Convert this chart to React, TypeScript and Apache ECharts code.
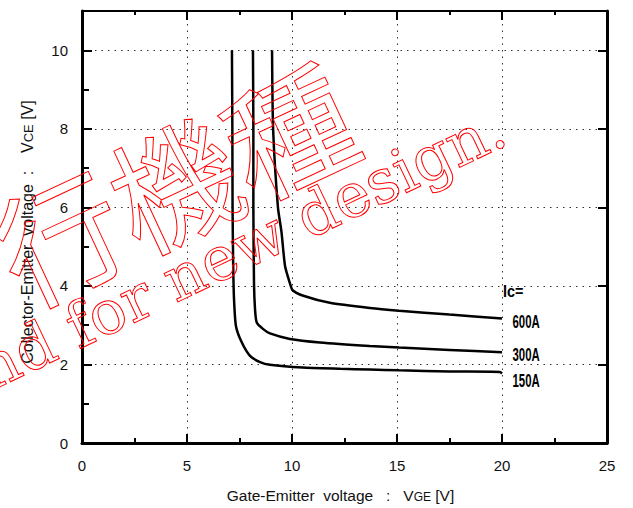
import React, { useEffect, useRef } from "react";
import * as echarts from "echarts";

// ---- data (VGE [V], VCE [V]) ----
const curve150A: [number, number][] = [
  [7.14, 10], [7.16, 8], [7.17, 6], [7.2, 4.5], [7.24, 3.65], [7.33, 2.98],
  [7.6, 2.57], [8.0, 2.22], [8.48, 2.06], [8.95, 1.99], [10.5, 1.92],
  [12.3, 1.89], [13.7, 1.87], [15.1, 1.85], [17.5, 1.82], [19.9, 1.81], [20, 1.77],
];
const curve300A: [number, number][] = [
  [8.14, 10], [8.16, 8], [8.16, 6], [8.19, 4.08], [8.24, 3.4], [8.32, 3.07],
  [8.63, 2.9], [8.95, 2.79], [9.9, 2.65], [11.33, 2.56], [13.7, 2.47],
  [15.1, 2.43], [17.5, 2.37], [20, 2.31],
];
const curve600A: [number, number][] = [
  [9.05, 10], [9.1, 8], [9.33, 6], [9.5, 5.37], [9.67, 4.5], [9.9, 4.07],
  [10.03, 3.89], [10.54, 3.75], [11.8, 3.57], [13.7, 3.44], [15.1, 3.37],
  [17.5, 3.27], [20, 3.17],
];
const seriesNames = ["150A", "300A", "600A"];
const labelHeader = "Ic=";
const headerPos: [number, number] = [20.05, 3.87];
const labelX = 20.5;
const labelY = [1.6, 2.27, 3.1]; // for 150A, 300A, 600A

const X_MIN = 0;
const X_MAX = 25;
const X_STEP = 5;
const Y_MIN = 0;
const Y_MAX = 11;
const Y_STEP = 2;

const xTitle = ["Gate-Emitter  voltage   :   V", "GE", " [V]"];
const yTitle = ["Collector-Emitter  voltage  :    V", "CE", " [V]"];
const watermarkJa = "行機種";
const watermarkEn = "nd for new design.";

const FONT = "Liberation Sans, Arial, sans-serif";

export default function App() {
  const ref = useRef<HTMLDivElement>(null);

  useEffect(() => {
    if (!ref.current) return;
    const chart = echarts.init(ref.current, null, { renderer: "svg" });

    const tickStyle = { color: "#000", width: 2 };
    const dotted = { type: [1.5, 5] as any, color: "#333", width: 1 };

    const richX = {
      a: { fontSize: 15.5, fontFamily: FONT, color: "#111", verticalAlign: "bottom", lineHeight: 18 },
      b: { fontSize: 12, fontFamily: FONT, color: "#111", verticalAlign: "bottom", lineHeight: 15.5 },
    };
    const richY = {
      a: { fontSize: 16, fontFamily: FONT, color: "#111", verticalAlign: "bottom", lineHeight: 18 },
      b: { fontSize: 13, fontFamily: FONT, color: "#111", verticalAlign: "bottom", lineHeight: 16 },
    };

    const option: any = {
      animation: false,
      backgroundColor: "#fff",
      grid: { left: 82, right: 26, top: 11, bottom: 63, containLabel: false },
      xAxis: [
        {
          type: "value",
          min: X_MIN,
          max: X_MAX,
          interval: X_STEP,
          position: "bottom",
          axisLine: { show: true, onZero: false, lineStyle: { color: "#000", width: 3 } },
          axisTick: { show: true, inside: true, length: 9, lineStyle: tickStyle },
          minorTick: { show: true, splitNumber: 2, length: 5, lineStyle: tickStyle },
          splitLine: { show: true, lineStyle: dotted },
          axisLabel: { margin: 15, fontSize: 15, color: "#111", fontFamily: FONT },
          name: `{a|${xTitle[0]}}{b|${xTitle[1]}}{a|${xTitle[2]}}`,
          nameLocation: "middle",
          nameGap: 42,
          nameTextStyle: { rich: richX, padding: [0, 8, 0, 0] },
        },
        {
          type: "value",
          min: X_MIN,
          max: X_MAX,
          interval: X_STEP,
          position: "top",
          axisLine: { show: true, onZero: false, lineStyle: { color: "#000", width: 2 } },
          axisTick: { show: true, inside: true, length: 9, lineStyle: tickStyle },
          minorTick: { show: true, splitNumber: 2, length: 4, lineStyle: tickStyle },
          splitLine: { show: false },
          axisLabel: { show: false },
        },
      ],
      yAxis: [
        {
          type: "value",
          min: Y_MIN,
          max: Y_MAX,
          interval: Y_STEP,
          position: "left",
          axisLine: { show: true, onZero: false, lineStyle: { color: "#000", width: 3 } },
          axisTick: { show: true, inside: true, length: 10, lineStyle: tickStyle },
          splitLine: { show: true, lineStyle: dotted },
          axisLabel: {
            margin: 14,
            fontSize: 15,
            color: "#111",
            fontFamily: FONT,
            formatter: (v: number) => (v % Y_STEP === 0 && v <= 10 ? String(v) : ""),
          },
          name: `{a|${yTitle[0]}}{b|${yTitle[1]}}{a|${yTitle[2]}}`,
          nameLocation: "middle",
          nameGap: 47,
          nameTextStyle: { rich: richY, padding: [0, 10, 0, 0] },
        },
        {
          type: "value",
          min: Y_MIN,
          max: Y_MAX,
          interval: 1,
          position: "left",
          axisLine: { show: false },
          axisTick: { show: true, inside: true, length: 7, lineStyle: tickStyle },
          splitLine: { show: false },
          axisLabel: { show: false },
        },
        {
          type: "value",
          min: Y_MIN,
          max: Y_MAX,
          interval: Y_STEP,
          position: "right",
          axisLine: { show: true, onZero: false, lineStyle: { color: "#000", width: 3 } },
          axisTick: { show: true, inside: true, length: 9, lineStyle: tickStyle },
          splitLine: { show: false },
          axisLabel: { show: false },
        },
      ],
      series: [curve150A, curve300A, curve600A].map((d, i) => ({
        name: seriesNames[i],
        type: "line",
        xAxisIndex: 0,
        yAxisIndex: 0,
        data: d,
        symbol: "none",
        showSymbol: false,
        smooth: 0.2,
        lineStyle: { color: "#000", width: 2.5 },
        z: 3,
      })),
    };

    chart.setOption(option);

    const toPx = (p: [number, number]) => chart.convertToPixel({ gridIndex: 0 }, p) as number[];
    const labelFont = "Liberation Sans, Arial, sans-serif";
    const labels: any[] = seriesNames.map((n, i) => {
      const [px, py] = toPx([labelX, labelY[i]]);
      return {
        type: "text",
        x: px,
        y: py,
        scaleX: 0.6,
        style: {
          text: n,
          fontFamily: labelFont,
          fontWeight: "bold",
          fontSize: 19,
          fill: "#000",
          align: "left",
          verticalAlign: "middle",
        },
        z: 50,
      };
    });
    const [hx, hy] = toPx(headerPos);
    labels.push({
      type: "text",
      x: hx,
      y: hy,
      scaleX: 0.85,
      style: {
        text: labelHeader,
        fontFamily: labelFont,
        fontWeight: "bold",
        fontSize: 17,
        fill: "#000",
        align: "left",
        verticalAlign: "middle",
      },
      z: 50,
    });

    const watermark = [
      {
        type: "text",
        x: 172,
        y: 180,
        rotation: (25 * Math.PI) / 180,
        style: {
          text: watermarkJa,
          fontFamily: "Noto Sans CJK JP",
          fontSize: 126,
          fill: "none",
          stroke: "#ff0000",
          lineWidth: 1,
          align: "center",
          verticalAlign: "middle",
        },
        z: 100,
      },
      {
        type: "text",
        x: 241,
        y: 248,
        rotation: (25.5 * Math.PI) / 180,
        style: {
          text: watermarkEn,
          fontFamily: "DejaVu Serif",
          fontSize: 61,
          fill: "none",
          stroke: "#ff0000",
          lineWidth: 1,
          align: "center",
          verticalAlign: "middle",
        },
        z: 100,
      },
    ];

    chart.setOption({ graphic: [...labels, ...watermark] });

    return () => chart.dispose();
  }, []);

  return (
    <div
      ref={ref}
      style={{ position: "absolute", left: 0, top: 0, width: 633, height: 508 }}
    />
  );
}
